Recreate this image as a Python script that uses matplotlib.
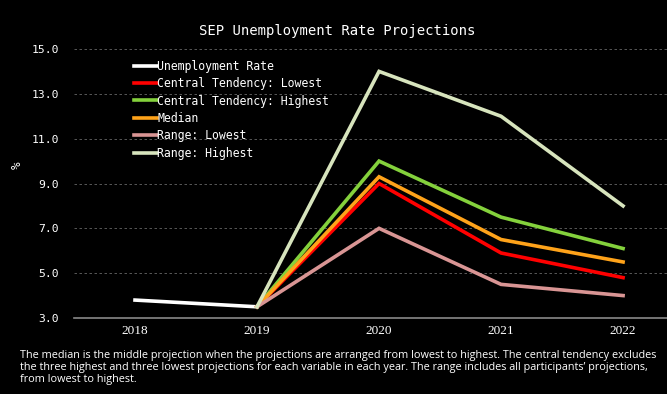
import numpy as np
import matplotlib.pyplot as plt

years = ["2018", "2019", "2020", "2021", "2022"]

unemployment_rate = [3.8, 3.5, None, None, None]
ct_lowest = [None, 3.5, 9.0, 5.9, 4.8]
ct_highest = [None, 3.5, 10.0, 7.5, 6.1]
median = [None, 3.5, 9.3, 6.5, 5.5]
range_lowest = [None, 3.5, 7.0, 4.5, 4.0]
range_highest = [None, 3.5, 14.0, 12.0, 8.0]

series = [
    ("Unemployment Rate", unemployment_rate, "#ffffff"),
    ("Central Tendency: Lowest", ct_lowest, "#ff0000"),
    ("Central Tendency: Highest", ct_highest, "#84d13c"),
    ("Median", median, "#ffa31a"),
    ("Range: Lowest", range_lowest, "#d99594"),
    ("Range: Highest", range_highest, "#d7e4bd"),
]

mono = "DejaVu Sans Mono"

fig = plt.figure(figsize=(6.67, 3.94), dpi=100, facecolor="black")
ax = fig.add_axes([74 / 667, 1 - 318 / 394, 1 - 74 / 667, (318 - 49) / 394])
ax.set_facecolor("black")

x = np.arange(len(years))
for label, vals, color in series:
    y = np.array([np.nan if v is None else v for v in vals], dtype=float)
    ax.plot(x, y, color=color, lw=2.6, label=label, solid_joinstyle="miter")

ax.set_xlim(-0.5, 4.36)
ax.set_ylim(3.0, 15.0)
ax.set_yticks(np.arange(3.0, 15.1, 2.0))
ax.set_yticklabels([f"{v:.1f}" for v in np.arange(3.0, 15.1, 2.0)],
                   fontfamily=mono, fontsize=8.2, color="white")
ax.set_xticks(x)
ax.set_xticklabels(years, fontfamily="Liberation Serif", fontsize=9.5, color="white")
ax.tick_params(axis="both", length=0)
ax.tick_params(axis="y", pad=11)
ax.tick_params(axis="x", pad=5)
ax.grid(axis="y", color="#666666", ls=(0, (3, 3)), lw=0.6)
for s in ["top", "right", "left"]:
    ax.spines[s].set_visible(False)
ax.spines["bottom"].set_color("#888888")
ax.spines["bottom"].set_linewidth(1.2)
ax.set_ylabel("%", fontfamily=mono, fontsize=9, color="white")
ax.yaxis.set_label_coords(-50 / 593, (318 - 165) / 269)

fig.text(337 / 667, 1 - 31 / 394, "SEP Unemployment Rate Projections",
         ha="center", va="center", fontfamily=mono, fontsize=10, color="white")

leg = fig.legend(loc="upper left", bbox_to_anchor=(128 / 667, 1 - 54 / 394),
                 frameon=False, prop={"family": mono, "size": 8.3},
                 handlelength=2.0, handletextpad=0.05, labelspacing=0.38,
                 borderpad=0)
for t in leg.get_texts():
    t.set_color("white")

note = ("The median is the middle projection when the projections are arranged from lowest to highest. "
        "The central tendency excludes\nthe three highest and three lowest projections for each variable "
        "in each year. The range includes all participants\u2019 projections,\nfrom lowest to highest.")
fig.text(20 / 667, 1 - 350 / 394, note, ha="left", va="top", fontfamily="Open Sans",
         fontsize=7.8, color="white", linespacing=1.15)

fig.savefig("out.png", dpi=100, facecolor="black")
